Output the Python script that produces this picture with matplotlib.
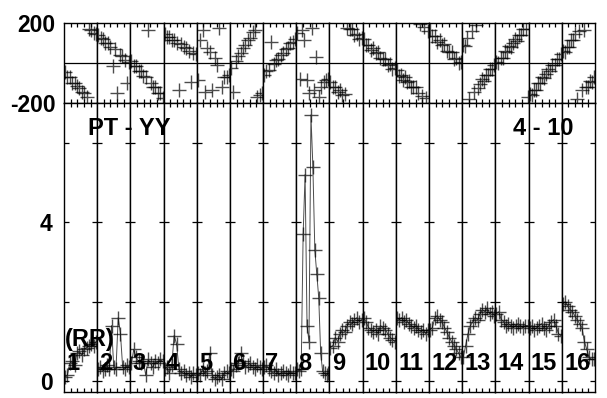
import numpy as np
import matplotlib
matplotlib.use("Agg")
from matplotlib import pyplot as plt

plt.rcParams['font.family'] = ['Liberation Sans', 'DejaVu Sans']
plt.rcParams['font.weight'] = 'bold'
plt.rcParams['axes.unicode_minus'] = False

# phase per baseline panel (deg)
ph1 = [-45, -72, -70, -98, -100, -115, -126, -145, -148, -172, 168, 162, 148, 142]
ph2 = [140, 122, 120, 100, 98, 78, -15, 68, -150, 38, 36, 16, -100, 2]
ph3 = [8, -14, -16, -42, -42, -66, -70, 164, -98, -122, -122, -150, -150, -174]
ph4 = [145, 130, 128, 112, 115, 98, -135, 92, 80, 75, 60, -94, 50, 45]
ph5 = [-85, 114, 163, -144, 74, 55, -135, 24, -10, 175, -119, -69, -70, -60]
ph6 = [-27, -144, 8, 36, 48, 75, 88, 115, 126, 154, 166, -172, -158, -150]
ph7 = [-60, -42, -36, 105, -8, 14, 20, 41, 47, 69, 75, 97, 103, 121]
ph8 = [150, -80, 164, 114, -85, -152, 172, -135, 30, -169, -119, -94, -85, -80]
ph9 = [-93, -122, -120, -146, -135, -160, -155, 174, 171, 170, 137, 143, 121, 124]
ph10 = [117, 88, 90, 64, 75, 50, 55, 24, 21, 20, -13, -7, -29, -25]
ph11 = [-37, -64, -61, -85, -73, -96, -90, -120, -121, -121, -152, 192, -166, 180, -176, 160]
ph12 = [163, 133, 133, 106, 115, 89, 92, 60, 55, 53, 18, 23, 0, 2]
ph13 = [88, 85, 123, -178, 160, -145, 187, -124, -104, -81, -90, -61, -60, -32, -32, -9]
ph14 = [5, 0, 25, 23, 57, 56, 84, 77, 97, 120, 110, 140, 141, 169, 169, -168]
ph15 = [-155, -159, -133, -135, -99, -100, -71, -77, -56, -33, -41, -11, -9, 20, 21, 44]
ph16 = [58, 54, 80, 78, 114, 113, 142, -178, 157, -137, 166, -119, -119, -92, -93, -73]

# amplitude per baseline panel
amp1 = [0.1, 0.15, 0.45, 0.5, 0.4, 0.7, 0.75, 0.65, 0.8, 0.85, 0.9, 0.95, 0.9, 1.0]
amp2 = [0.3, 0.35, 0.25, 0.3, 0.4, 0.3, 1.4, 0.35, 0.3, 1.6, 1.2, 0.35, 0.3, 0.4, 0.35]
amp3 = [0.45, 0.8, 0.6, 0.5, 0.45, 0.5, 0.15, 0.55, 0.45, 0.35, 0.5, 0.45, 0.55, 0.5]
amp4 = [0.3, 0.35, 0.2, 0.4, 1.15, 0.95, 0.3, 0.2, 0.25, 0.15, 0.2, 0.1, 0.2, 0.15]
amp5 = [0.2, 0.15, 0.3, 0.2, 0.25, 0.7, 0.15, 0.05, 0.1, 0.15, 0.05, 0.2, 0.25, 0.2]
amp6 = [0.3, 0.25, 0.4, 0.45, 0.7, 0.5, 0.35, 0.4, 0.45, 0.35, 0.3, 0.4, 0.35, 0.3]
amp7 = [0.35, 0.4, 0.3, 0.25, 0.2, 0.3, 0.15, 0.2, 0.25, 0.2, 0.15, 0.25, 0.2, 0.2]
amp8 = [0.3, 0.25, 0.3, 3.7, 5.2, 1.4, 1.0, 6.7, 5.4, 3.3, 2.7, 2.1, 0.7, 0.25, 0.2, 0.15, 0.2]
amp9 = [0.85, 0.9, 1.1, 1.0, 1.2, 1.3, 1.25, 1.4, 1.5, 1.45, 1.55, 1.6, 1.5, 1.55]
amp10 = [1.6, 1.5, 1.35, 1.3, 1.25, 1.3, 1.2, 1.4, 1.35, 1.3, 1.2, 1.1, 1.05, 1.0]
amp11 = [1.6, 1.55, 1.6, 1.5, 1.55, 1.45, 1.4, 1.35, 1.4, 1.3, 1.25, 1.3, 1.2, 1.3]
amp12 = [1.3, 1.35, 1.6, 1.65, 1.55, 1.5, 1.35, 1.25, 1.1, 1.0, 0.9, 0.8, 0.7, 0.6]
amp13 = [0.6, 0.9, 1.2, 1.4, 1.5, 1.6, 1.55, 1.7, 1.8, 1.75, 1.85, 1.7, 1.75, 1.65]
amp14 = [1.7, 1.75, 1.55, 1.5, 1.4, 1.45, 1.4, 1.35, 1.4, 1.45, 1.4, 1.35, 1.4, 1.4]
amp15 = [1.35, 1.4, 1.3, 1.35, 1.4, 1.45, 1.35, 1.3, 1.4, 1.5, 1.55, 1.4, 1.2, 1.15]
amp16 = [1.95, 2.0, 1.9, 1.8, 1.75, 1.65, 1.55, 1.45, 1.35, 1.0, 0.8, 0.6, 0.55, 0.55]

phases = [ph1, ph2, ph3, ph4, ph5, ph6, ph7, ph8, ph9, ph10, ph11, ph12, ph13, ph14, ph15, ph16]
amps = [amp1, amp2, amp3, amp4, amp5, amp6, amp7, amp8, amp9, amp10, amp11, amp12, amp13, amp14, amp15, amp16]
panel_labels = [str(k) for k in range(1, 17)]

fig, axes = plt.subplots(2, 16, figsize=(6.07, 3.98), dpi=100,
                         gridspec_kw=dict(height_ratios=[80.3, 289]))
fig.subplots_adjust(left=0.1054, right=0.9802, top=0.943, bottom=0.015, wspace=0, hspace=0)

mk = dict(marker='+', markersize=10, mew=1.0, color='k', alpha=0.7)

for i in range(16):
    top = axes[0, i]
    bot = axes[1, i]

    t = np.linspace(0.03, 0.97, len(phases[i]))
    top.plot(t, phases[i], linestyle='none', **mk)
    top.axhline(0, color='k', lw=0.9)
    top.set_xlim(0, 1)
    top.set_ylim(-200, 200)
    top.set_yticks([-200, 200])
    top.tick_params(axis='y', length=0, labelsize=16.5, pad=6)

    t = np.linspace(0.03, 0.97, len(amps[i]))
    bot.plot(t, amps[i], linestyle='-', lw=0.7, **mk)
    bot.set_xlim(0, 1)
    bot.set_ylim(-0.27, 7.0)
    bot.set_yticks([0, 2, 4, 6], ['0', '', '4', ''])
    bot.tick_params(axis='y', direction='in', left=True, right=True, length=3.8,
                    width=0.9, labelsize=16.5, pad=8)
    bot.text(0.07, 0.10, panel_labels[i], transform=bot.transAxes, ha='left',
             va='center', fontsize=17, fontweight='bold', zorder=5)

    for ax in (top, bot):
        ax.set_xticks([0.2, 0.4, 0.6, 0.8])
        ax.tick_params(axis='x', direction='in', top=True, bottom=True, length=3,
                       width=0.9, labelbottom=False)
        for s in ax.spines.values():
            s.set_linewidth(1.0)
        if i > 0:
            ax.tick_params(axis='y', labelleft=False)

fig.text(0.145, 0.678, 'PT - YY', fontsize=17, fontweight='bold', va='center', ha='left')
fig.text(0.845, 0.678, '4 - 10', fontsize=17, fontweight='bold', va='center', ha='left')
fig.text(0.107, 0.146, '(RR)', fontsize=17, fontweight='bold', va='center', ha='left')

fig.savefig('out.png', dpi=100)
